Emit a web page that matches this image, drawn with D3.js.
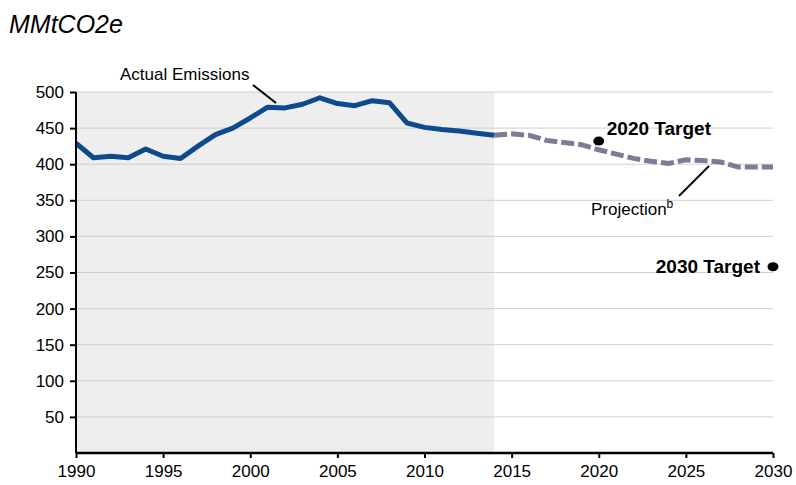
<!DOCTYPE html>
<meta charset="utf-8">
<body style="margin:0;background:#fff">
  <style>
    text { font-family: "Liberation Sans", Arial, Helvetica, sans-serif; }
  </style>
  <div id="box"></div>
  <script src="https://d3js.org/d3.v7.min.js"></script>
  <script>
    // actual emissions 1990-2014 (MMtCO2e)
    var actualYears = [1990, 1991, 1992, 1993, 1994, 1995, 1996, 1997, 1998, 1999, 2000, 2001, 2002,
      2003, 2004, 2005, 2006, 2007, 2008, 2009, 2010, 2011, 2012, 2013, 2014];
    var actualValues = [429, 409, 411, 409, 421, 411, 408, 425, 441, 450, 464, 479, 478,
      483, 492, 484, 481, 488, 485, 457, 451, 448, 446, 443, 440];

    // projection 2014-2030
    var projYears = [2014, 2015, 2016, 2017, 2018, 2019, 2020, 2021, 2022, 2023, 2024, 2025,
      2026, 2027, 2028, 2029, 2030];
    var projValues = [440, 442, 440, 433, 430, 427, 420, 414, 408, 404, 401, 406,
      405, 403, 396, 396, 396];

    var targetYears = [2020, 2030];
    var targetValues = [432, 258];
    var targetLabels = ["2020 Target", "2030 Target"];

    var xTicks = [1990, 1995, 2000, 2005, 2010, 2015, 2020, 2025, 2030];
    var yTicks = [50, 100, 150, 200, 250, 300, 350, 400, 450, 500];

    var margin = { top: 92, right: 23, bottom: 32, left: 76 },
      W = 796, H = 485,
      width = W - margin.left - margin.right,
      height = H - margin.top - margin.bottom;

    var x = d3.scaleLinear().domain([1990, 2030]).range([0, width]);
    var y = d3.scaleLinear().domain([0, 500]).range([height, 0]);

    var svg = d3.select("#box").append("svg")
      .attr("width", W)
      .attr("height", H);

    // unit label
    svg.append("text")
      .attr("x", 9)
      .attr("y", 33)
      .style("font-size", "25px")
      .style("font-style", "italic")
      .text("MMtCO2e");

    var g = svg.append("g")
      .attr("transform", "translate(" + margin.left + "," + margin.top + ")");

    // shaded history area
    g.append("rect")
      .attr("x", x(1990))
      .attr("y", 0)
      .attr("width", x(2014) - x(1990))
      .attr("height", height)
      .attr("fill", "#eeeeee");

    // gridlines
    g.selectAll(".grid")
      .data(yTicks)
      .enter().append("line")
      .attr("class", "grid")
      .attr("x1", 0)
      .attr("x2", width)
      .attr("y1", function(d) { return y(d); })
      .attr("y2", function(d) { return y(d); })
      .attr("stroke", "#cfcfcf")
      .attr("stroke-width", 1);

    var line = d3.line()
      .x(function(d) { return x(d[0]); })
      .y(function(d) { return y(d[1]); });

    // projection (dashed)
    g.append("path")
      .datum(d3.zip(projYears, projValues))
      .attr("d", line)
      .attr("fill", "none")
      .attr("stroke", "#7a7c98")
      .attr("stroke-width", 5)
      .attr("stroke-dasharray", "13,4");

    // actual emissions
    g.append("path")
      .datum(d3.zip(actualYears, actualValues))
      .attr("d", line)
      .attr("fill", "none")
      .attr("stroke", "#0d4b8e")
      .attr("stroke-width", 5)
      .attr("stroke-linejoin", "round");

    // axes
    var yAxis = g.append("g")
      .call(d3.axisLeft(y).tickValues(yTicks).tickSize(6).tickPadding(6));
    yAxis.select(".domain").attr("d", "M0," + y(500) + "V" + y(0)).attr("stroke-width", 2);
    yAxis.selectAll(".tick line").attr("stroke-width", 2);
    yAxis.selectAll("text").style("font-size", "17px").attr("fill", "#000")
      .style("font-family", "'Liberation Sans', Arial, sans-serif");

    var xAxis = g.append("g")
      .attr("transform", "translate(0," + height + ")")
      .call(d3.axisBottom(x).tickValues(xTicks).tickFormat(d3.format("d")).tickSize(5).tickPadding(7));
    xAxis.select(".domain").attr("d", "M0,0H" + width).attr("stroke-width", 2.5);
    xAxis.selectAll(".tick line").attr("stroke-width", 2);
    xAxis.selectAll("text").style("font-size", "17px").attr("fill", "#000")
      .style("font-family", "'Liberation Sans', Arial, sans-serif");

    // targets
    g.selectAll(".target")
      .data(d3.range(targetYears.length))
      .enter().append("ellipse")
      .attr("class", "target")
      .attr("cx", function(i) { return x(targetYears[i]); })
      .attr("cy", function(i) { return y(targetValues[i]); })
      .attr("rx", 5.5)
      .attr("ry", 4.5)
      .attr("fill", "#000");

    g.append("text")
      .attr("x", x(targetYears[0]) + 8)
      .attr("y", y(targetValues[0]) - 6)
      .style("font-size", "19px")
      .style("font-weight", "bold")
      .text(targetLabels[0]);

    g.append("text")
      .attr("x", x(targetYears[1]) - 13)
      .attr("y", y(targetValues[1]) + 6)
      .attr("text-anchor", "end")
      .style("font-size", "19px")
      .style("font-weight", "bold")
      .text(targetLabels[1]);

    // callouts
    svg.append("text")
      .attr("x", 120)
      .attr("y", 80)
      .style("font-size", "17px")
      .text("Actual Emissions");
    svg.append("line")
      .attr("x1", 253).attr("y1", 85)
      .attr("x2", 276).attr("y2", 103)
      .attr("stroke", "#000").attr("stroke-width", 2);

    var proj = svg.append("text")
      .attr("x", 591)
      .attr("y", 215)
      .style("font-size", "17px")
      .text("Projection");
    proj.append("tspan")
      .attr("dy", -7)
      .style("font-size", "12px")
      .text("b");
    svg.append("line")
      .attr("x1", 679).attr("y1", 196)
      .attr("x2", 709).attr("y2", 166)
      .attr("stroke", "#000").attr("stroke-width", 2);
  </script>
